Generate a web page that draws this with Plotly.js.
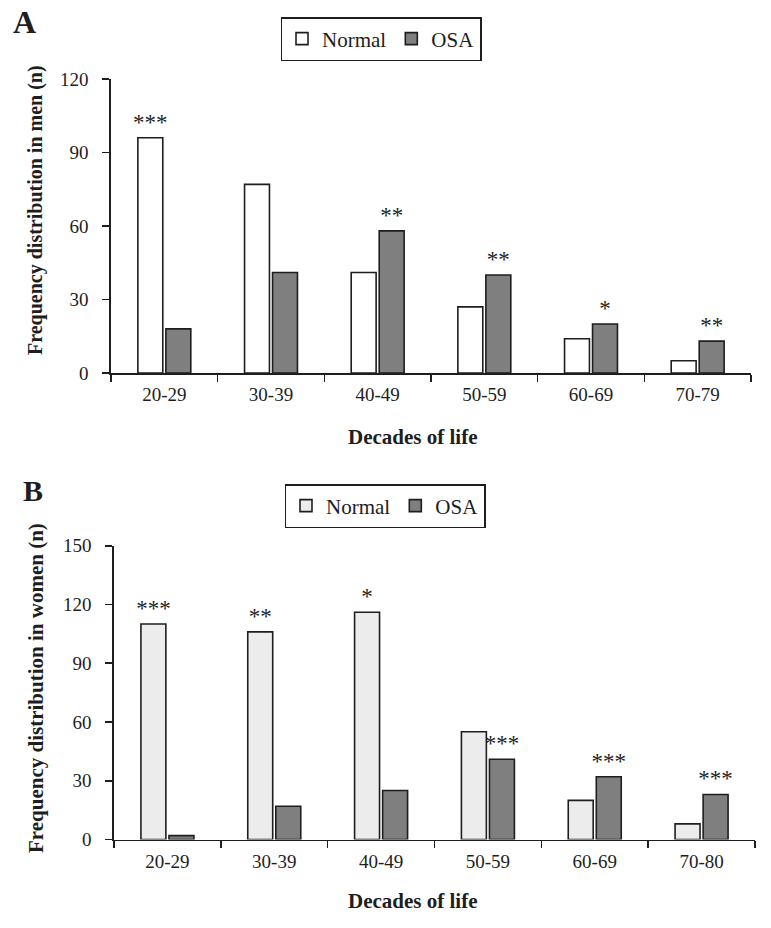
<!DOCTYPE html>
<html>
<head>
<meta charset="utf-8">
<script src="https://cdn.plot.ly/plotly-3.0.1.min.js"></script>
<style>html,body{margin:0;padding:0;background:#fff;}#chart{width:771px;height:928px;}</style>
</head>
<body>
<div id="chart"></div>
<script>
// ---- data ----
const menCategories = ['20-29', '30-39', '40-49', '50-59', '60-69', '70-79'];
const womenCategories = ['20-29', '30-39', '40-49', '50-59', '60-69', '70-80'];
const menNormal = [96, 77, 41, 27, 14, 5];
const menOSA = [18, 41, 58, 40, 20, 13];
const womenNormal = [110, 106, 116, 55, 20, 8];
const womenOSA = [2, 17, 25, 41, 32, 23];
const menNormalStars = ['***', '', '', '', '', ''];
const menOSAStars = ['', '', '**', '**', '*', '**'];
const womenNormalStars = ['***', '**', '*', '', '', ''];
const womenOSAStars = ['', '', '', '***', '***', '***'];
const menTicks = [0, 30, 60, 90, 120];
const womenTicks = [0, 30, 60, 90, 120, 150];

// ---- styling ----
const FONT = 'Liberation Serif';
const INK = '#1e1e1e';
const W = 771, H = 928;
const px = v => v / W;
const py = v => 1 - v / H;

function barTrace(name, x, y, text, color, xa, ya, legend, showlegend) {
  return {
    type: 'bar', name: name, x: x, y: y, text: text,
    textposition: 'outside', constraintext: 'none', cliponaxis: false,
    textfont: {family: FONT, size: 23, color: INK},
    marker: {color: color, line: {color: INK, width: 1.6}},
    xaxis: xa, yaxis: ya, legend: legend, showlegend: showlegend,
    hoverinfo: 'skip'
  };
}

const data = [
  barTrace('Normal', menCategories, menNormal, menNormalStars, '#ffffff', 'x', 'y', 'legend', true),
  barTrace('OSA', menCategories, menOSA, menOSAStars, '#7f7f7f', 'x', 'y', 'legend', true),
  barTrace('Normal', womenCategories, womenNormal, womenNormalStars, '#ececec', 'x2', 'y2', 'legend2', true),
  barTrace('OSA', womenCategories, womenOSA, womenOSAStars, '#7f7f7f', 'x2', 'y2', 'legend2', true)
];

function xAxis(domain, anchor) {
  return {
    domain: domain, anchor: anchor, type: 'category', range: [-0.5, 5.5],
    showline: true, linecolor: INK, linewidth: 1.6, mirror: false,
    ticks: 'outside', tickson: 'boundaries', ticklen: 7, tickwidth: 1.6, tickcolor: INK,
    ticklabelstandoff: 4,
    tickfont: {family: FONT, size: 19, color: INK},
    showgrid: false, zeroline: false, fixedrange: true
  };
}
function yAxis(domain, anchor, range, ticks) {
  return {
    domain: domain, anchor: anchor, range: range,
    tickmode: 'array', tickvals: ticks,
    showline: true, linecolor: INK, linewidth: 1.6,
    ticks: 'outside', ticklen: 7, tickwidth: 1.6, tickcolor: INK,
    ticklabelstandoff: 10,
    tickfont: {family: FONT, size: 19, color: INK},
    showgrid: false, zeroline: false, fixedrange: true
  };
}

const legendStyle = {
  orientation: 'h', xanchor: 'center', yanchor: 'top',
  bordercolor: INK, borderwidth: 1.5, bgcolor: '#ffffff',
  font: {family: FONT, size: 21, color: INK},
  itemclick: false, itemdoubleclick: false
};

const layout = {
  width: W, height: H,
  margin: {l: 0, r: 0, t: 0, b: 0},
  paper_bgcolor: '#ffffff', plot_bgcolor: '#ffffff',
  barmode: 'group', bargap: 0.475, bargroupgap: 0.11,
  showlegend: true,
  xaxis: xAxis([px(111), px(751)], 'y'),
  yaxis: yAxis([py(373), py(79)], 'x', [0, 120], menTicks),
  xaxis2: xAxis([px(114), px(755)], 'y2'),
  yaxis2: yAxis([py(839.5), py(545.7)], 'x2', [0, 150], womenTicks),
  legend: Object.assign({x: px(381), y: py(17)}, legendStyle),
  legend2: Object.assign({x: px(385), y: py(484)}, legendStyle),
  annotations: [
    {text: '<b>A</b>', xref: 'paper', yref: 'paper', x: px(11), y: py(2), xanchor: 'left', yanchor: 'top',
     showarrow: false, font: {family: FONT, size: 32, color: INK}},
    {text: '<b>B</b>', xref: 'paper', yref: 'paper', x: px(21), y: py(472), xanchor: 'left', yanchor: 'top',
     showarrow: false, font: {family: FONT, size: 30, color: INK}},
    {text: '<b>Frequency distribution in men (n)</b>', xref: 'paper', yref: 'paper', x: px(36), y: py(210),
     xanchor: 'center', yanchor: 'middle', textangle: -90, showarrow: false,
     font: {family: FONT, size: 20, color: INK}},
    {text: '<b>Frequency distribution in women (n)</b>', xref: 'paper', yref: 'paper', x: px(36), y: py(688),
     xanchor: 'center', yanchor: 'middle', textangle: -90, showarrow: false,
     font: {family: FONT, size: 21, color: INK}},
    {text: '<b>Decades of life</b>', xref: 'paper', yref: 'paper', x: px(412), y: py(437),
     xanchor: 'center', yanchor: 'middle', showarrow: false,
     font: {family: FONT, size: 21, color: INK}},
    {text: '<b>Decades of life</b>', xref: 'paper', yref: 'paper', x: px(412), y: py(901),
     xanchor: 'center', yanchor: 'middle', showarrow: false,
     font: {family: FONT, size: 21, color: INK}}
  ]
};

Plotly.newPlot('chart', data, layout, {displayModeBar: false, staticPlot: true});
</script>
</body>
</html>
